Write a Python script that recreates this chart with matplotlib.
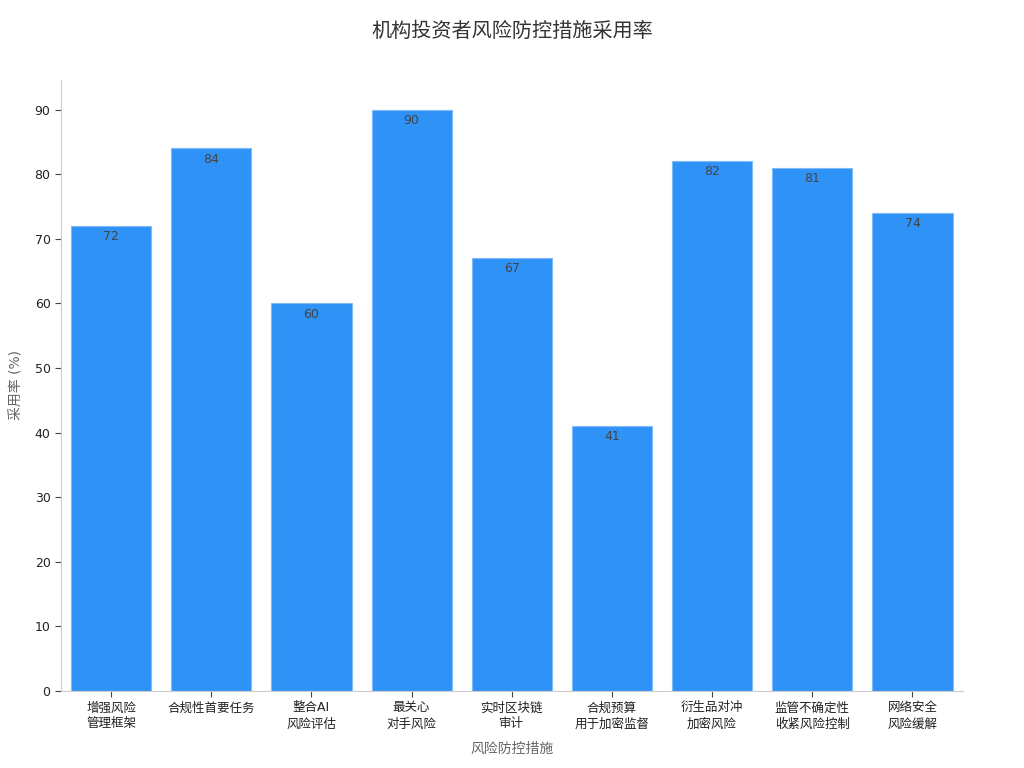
import matplotlib
matplotlib.use("Agg")
import matplotlib.pyplot as plt

plt.rcParams['font.family'] = ['DejaVu Sans', 'Noto Sans CJK SC']

measures = ["增强风险\n管理框架", "合规性首要任务", "整合AI\n风险评估", "最关心\n对手风险",
            "实时区块链\n审计", "合规预算\n用于加密监督", "衍生品对冲\n加密风险",
            "监管不确定性\n收紧风险控制", "网络安全\n风险缓解"]
adoption = [72, 84, 60, 90, 67, 41, 82, 81, 74]

fig = plt.figure(figsize=(10.24, 7.68), dpi=100)
ax = fig.add_axes([0.0596, 0.1003, 0.8804, 0.7957])

x = range(len(measures))
bars = ax.bar(x, adoption, width=0.8, color='#2f92f6', edgecolor='#7dbcf8', linewidth=0.8)

for b, v in zip(bars, adoption):
    ax.annotate(f"{v}", (b.get_x() + b.get_width() / 2, v), xytext=(0, -3),
                textcoords='offset points', ha='center', va='top',
                fontsize=9, color='#444444')

ax.set_xlim(-0.5, len(measures) - 0.5)
ax.set_ylim(0, 94.6)
ax.set_yticks(range(0, 91, 10))
ax.set_xticks(list(x))
ax.set_xticklabels(measures, fontsize=9, color='#222222', linespacing=1.3)
ax.tick_params(axis='y', labelsize=9, labelcolor='#222222', color='#444444', length=4)
ax.tick_params(axis='x', color='#444444', length=4)

for s in ('top', 'right'):
    ax.spines[s].set_visible(False)
for s in ('left', 'bottom'):
    ax.spines[s].set_color('#cccccc')

ax.set_xlabel("风险防控措施", fontsize=10, color='#666666', labelpad=8)
ax.set_ylabel("采用率 (%)", fontsize=10, color='#666666', labelpad=8)
fig.suptitle("机构投资者风险防控措施采用率", fontsize=14.5, color='#333333', y=0.972)

fig.savefig("out.png", dpi=100)
